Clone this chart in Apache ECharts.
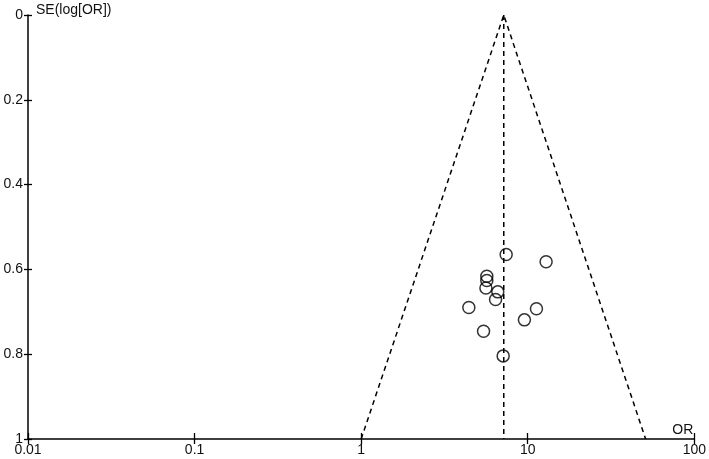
<!DOCTYPE html>
<html>
<head>
<meta charset="utf-8">
<script src="https://cdn.jsdelivr.net/npm/echarts@6/dist/echarts.min.js"></script>
<style>html,body{margin:0;padding:0;background:#fff;}#c{width:709px;height:459px;}</style>
</head>
<body>
<div id="c"></div>
<script>
// Study estimates
var studyOR = [7.42, 12.89, 5.68, 5.68, 5.61, 6.61, 6.41, 4.43, 11.28, 9.55, 5.43, 7.12];
var studySE = [0.565, 0.582, 0.616, 0.626, 0.644, 0.653, 0.671, 0.690, 0.693, 0.719, 0.746, 0.804];
// Pooled estimate and funnel limits
var pooledOR = 7.18;
var funnelOR = [1.0, 7.18, 51.0];
var funnelSE = [1, 0, 1];
var vertSE = [0, 1];
var xTickLabels = ['0.01', '0.1', '1', '10', '100'];
var yTickLabels = ['0', '0.2', '0.4', '0.6', '0.8', '1'];

var points = studyOR.map(function (v, i) { return [v, studySE[i]]; });
var funnel = funnelOR.map(function (v, i) { return [v, funnelSE[i]]; });
var vert = vertSE.map(function (s) { return [pooledOR, s]; });

var font = 'Liberation Sans, Arial, sans-serif';
var fs = 14;
var chart = echarts.init(document.getElementById('c'));
var xBase = {
  type: 'log', logBase: 10, min: 0.01, max: 100, position: 'bottom',
  splitLine: { show: false }, minorTick: { show: false }
};
var yBase = {
  type: 'value', inverse: true, min: 0, max: 1, interval: 0.2, position: 'left',
  splitLine: { show: false }
};
chart.setOption({
  animation: false,
  backgroundColor: '#fff',
  grid: { left: 28, right: 13, top: 15, bottom: 20, containLabel: false },
  xAxis: [
    Object.assign({}, xBase, {
      name: 'OR', nameLocation: 'end', nameGap: -22,
      nameTextStyle: { color: '#111', fontSize: fs, fontFamily: font, align: 'left', verticalAlign: 'bottom', padding: [0, 0, 2, 0] },
      axisLine: { show: true, onZero: false, lineStyle: { color: '#000', width: 1.5 } },
      axisTick: { show: true, inside: false, length: 5, lineStyle: { color: '#000', width: 1.3 } },
      axisLabel: { color: '#111', fontSize: fs, fontFamily: font, margin: 4,
        formatter: function (v) { var i = Math.round(Math.log10(v)) + 2; return xTickLabels[i]; } }
    }),
    Object.assign({}, xBase, {
      axisLine: { show: false, onZero: false },
      axisTick: { show: true, inside: true, length: 6, lineStyle: { color: '#000', width: 1.3 } },
      axisLabel: { show: false }
    })
  ],
  yAxis: [
    Object.assign({}, yBase, {
      name: 'SE(log[OR])', nameLocation: 'start', nameGap: 5,
      nameTextStyle: { color: '#111', fontSize: fs, fontFamily: font, align: 'left', verticalAlign: 'middle', padding: [0, 0, 0, 8] },
      axisLine: { show: true, onZero: false, lineStyle: { color: '#000', width: 1.5 } },
      axisTick: { show: true, inside: false, length: 4, lineStyle: { color: '#000', width: 1.3 } },
      axisLabel: { color: '#111', fontSize: fs, fontFamily: font, margin: 5,
        formatter: function (v) { return yTickLabels[Math.round(v / 0.2)]; } }
    }),
    Object.assign({}, yBase, {
      axisLine: { show: false, onZero: false },
      axisTick: { show: true, inside: true, length: 4, lineStyle: { color: '#000', width: 1.3 } },
      axisLabel: { show: false }
    })
  ],
  series: [
    {
      type: 'line', data: funnel, symbol: 'none', silent: true,
      lineStyle: { color: '#000', width: 1.5, type: [5, 4] }
    },
    {
      type: 'line', data: vert, symbol: 'none', silent: true,
      lineStyle: { color: '#000', width: 1.5, type: [5, 4] }
    },
    {
      type: 'scatter', data: points, symbol: 'circle', symbolSize: 12,
      itemStyle: { color: 'rgba(255,255,255,0)', borderColor: '#000', borderWidth: 1.5 }
    }
  ]
});
</script>
</body>
</html>
